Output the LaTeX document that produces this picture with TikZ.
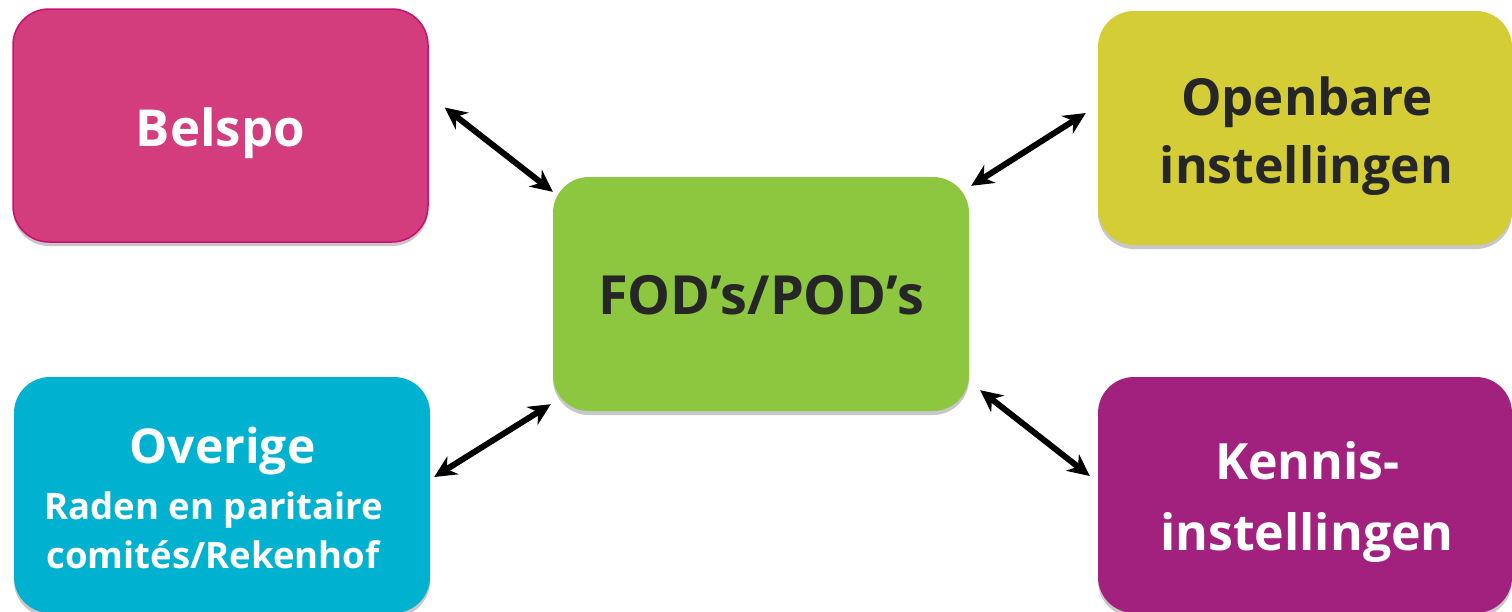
\documentclass[tikz,border=0pt]{standalone}
\usepackage{fontspec}
\setmainfont{Open Sans}
\usetikzlibrary{arrows.meta,shadows,calc}
\definecolor{cmag}{HTML}{D33C7D}
\definecolor{cmagb}{HTML}{C8106E}
\definecolor{cgreen}{HTML}{8DC63F}
\definecolor{cyel}{HTML}{D4CD36}
\definecolor{ccyan}{HTML}{00B2D0}
\definecolor{cpurp}{HTML}{A3217E}
\definecolor{ctext}{HTML}{262626}
\tikzset{
  box/.style={rectangle, rounded corners=36pt, minimum width=415pt, minimum height=233pt,
    inner sep=0pt,
    drop shadow={shadow xshift=0pt, shadow yshift=-4pt, opacity=0.22, fill=black}},
  lbl/.style={anchor=base, inner sep=0pt, font=\bfseries},
  arr/.style={draw=black, line width=6pt,
    arrows={Stealth[length=22pt,width=21pt]-Stealth[length=22pt,width=21pt]}},
  arrsh/.style={draw=black!25, line width=7pt, opacity=0.5,
    arrows={Stealth[length=22pt,width=21pt]-Stealth[length=22pt,width=21pt]}}
}
\begin{document}
\begin{tikzpicture}[x=1pt,y=1pt]
\useasboundingbox (0,0) rectangle (1512,-611);
% boxes
\node[box, fill=cmag, draw=cmagb, line width=1.5pt] (belspo) at (220.5,-125.5) {};
\node[box, fill=cgreen, minimum width=416pt, minimum height=234pt] (fod) at (761,-294) {};
\node[box, fill=cyel, minimum width=414pt, minimum height=234pt] (open) at (1305,-128) {};
\node[box, fill=ccyan, minimum width=416pt, minimum height=236pt] (over) at (222,-495) {};
\node[box, fill=cpurp, minimum width=414pt, minimum height=236pt] (kennis) at (1305,-495) {};
% texts
\node[lbl, text=white, font=\bfseries\fontsize{51}{60}\selectfont] (belspo-t) at (220.5,-146) {Belspo};
\node[lbl, text=ctext, font=\bfseries\fontsize{54}{60}\selectfont] (fod-t) at (761,-314) {FOD’s/POD’s};
\node[lbl, text=ctext, font=\bfseries\fontsize{51}{60}\selectfont] (open-t1) at (1307,-115) {Openbare};
\node[lbl, text=ctext, font=\bfseries\fontsize{50}{60}\selectfont] (open-t2) at (1306.5,-183) {instellingen};
\node[lbl, text=white, font=\bfseries\fontsize{48}{60}\selectfont] (over-t1) at (222.5,-463) {Overige};
\node[lbl, text=white, font=\bfseries\fontsize{36.5}{50}\selectfont] (over-t2) at (214,-519) {Raden en paritaire};
\node[lbl, text=white, font=\bfseries\fontsize{36.5}{50}\selectfont] (over-t3) at (213,-568) {comités/Rekenhof};
\node[lbl, text=white, font=\bfseries\fontsize{50}{60}\selectfont] (kennis-t1) at (1307.5,-479) {Kennis-};
\node[lbl, text=white, font=\bfseries\fontsize{50}{60}\selectfont] (kennis-t2) at (1307,-550) {instellingen};
% connectors
\draw[arr] ($(belspo.east)+(16,18)$) -- ($(fod.north west)+(0,-15)$);
\draw[arr] ($(open.west)+(-12,15)$) -- ($(fod.north east)+(2,-9)$);
\draw[arr] ($(over.east)+(4,18)$) -- ($(fod.south west)+(-2,7)$);
\draw[arr] ($(fod.south east)+(11,21)$) -- ($(kennis.west)+(-8,19)$);
\end{tikzpicture}
\end{document}
